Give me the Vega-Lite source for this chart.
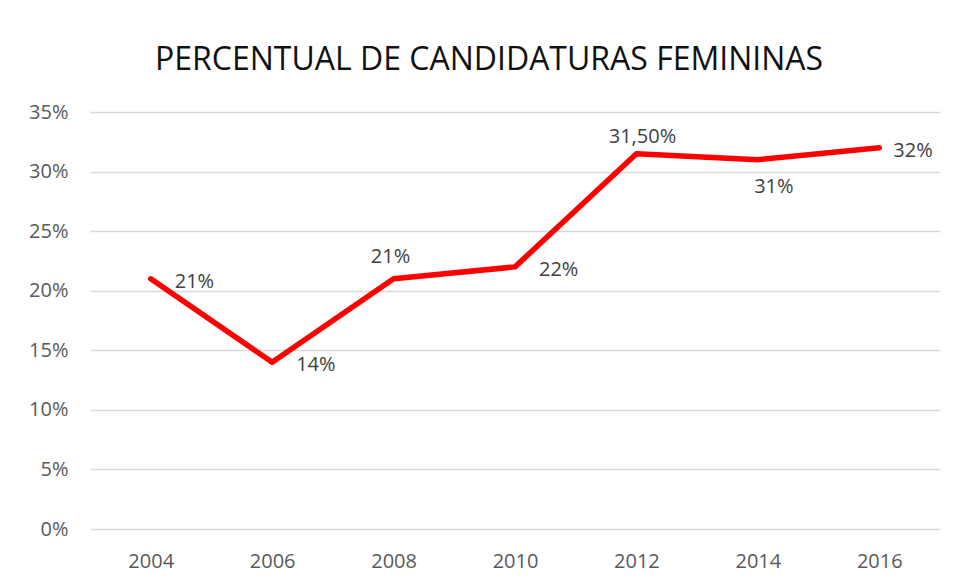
{
  "$schema": "https://vega.github.io/schema/vega-lite/v6.json",
  "width": 850,
  "height": 417,
  "autosize": {"type": "none"},
  "padding": {"left": 90, "top": 112, "right": 19, "bottom": 54},
  "background": "white",
  "config": {
    "view": {"stroke": null},
    "font": "Open Sans"
  },
  "title": {
    "text": "PERCENTUAL DE CANDIDATURAS FEMININAS",
    "font": "Open Sans",
    "fontSize": 32,
    "fontWeight": "normal",
    "color": "#111111",
    "anchor": "middle",
    "frame": "group",
    "dx": -26,
    "offset": 25
  },
  "data": {
    "values": [
      {"ano": "2004", "valor": 0.21, "rotulo": "21%"},
      {"ano": "2006", "valor": 0.14, "rotulo": "14%"},
      {"ano": "2008", "valor": 0.21, "rotulo": "21%"},
      {"ano": "2010", "valor": 0.22, "rotulo": "22%"},
      {"ano": "2012", "valor": 0.315, "rotulo": "31,50%"},
      {"ano": "2014", "valor": 0.31, "rotulo": "31%"},
      {"ano": "2016", "valor": 0.32, "rotulo": "32%"}
    ]
  },
  "encoding": {
    "x": {
      "field": "ano",
      "type": "ordinal",
      "scale": {"type": "point", "padding": 0.5},
      "axis": {
        "title": null,
        "labelAngle": 0,
        "labelFont": "Open Sans",
        "labelFontSize": 20,
        "labelColor": "#595959",
        "labelPadding": 22,
        "ticks": false,
        "domain": false,
        "grid": false
      }
    },
    "y": {
      "field": "valor",
      "type": "quantitative",
      "scale": {"domain": [0, 0.35], "nice": false},
      "axis": {
        "title": null,
        "values": [0, 0.05, 0.1, 0.15, 0.2, 0.25, 0.3, 0.35],
        "format": ".0%",
        "labelFont": "Open Sans",
        "labelFontSize": 20,
        "labelColor": "#595959",
        "labelPadding": 22,
        "ticks": false,
        "domain": false,
        "grid": true,
        "gridColor": "#D9D9D9",
        "gridWidth": 1.3
      }
    }
  },
  "layer": [
    {
      "mark": {"type": "line", "color": "#FF0000", "strokeWidth": 5.5, "strokeCap": "round", "strokeJoin": "round"}
    },
    {
      "transform": [{"filter": "datum.ano == '2004' || datum.ano == '2006' || datum.ano == '2010'"}],
      "mark": {"type": "text", "align": "left", "baseline": "middle", "dx": 24, "dy": 3, "fontSize": 20, "font": "Open Sans", "color": "#404040"},
      "encoding": {"text": {"field": "rotulo"}}
    },
    {
      "transform": [{"filter": "datum.ano == '2016'"}],
      "mark": {"type": "text", "align": "left", "baseline": "middle", "dx": 14, "dy": 3, "fontSize": 20, "font": "Open Sans", "color": "#404040"},
      "encoding": {"text": {"field": "rotulo"}}
    },
    {
      "transform": [{"filter": "datum.ano == '2008'"}],
      "mark": {"type": "text", "align": "center", "baseline": "middle", "dx": -3, "dy": -22, "fontSize": 20, "font": "Open Sans", "color": "#404040"},
      "encoding": {"text": {"field": "rotulo"}}
    },
    {
      "transform": [{"filter": "datum.ano == '2012'"}],
      "mark": {"type": "text", "align": "center", "baseline": "middle", "dx": 6, "dy": -17, "fontSize": 20, "font": "Open Sans", "color": "#404040"},
      "encoding": {"text": {"field": "rotulo"}}
    },
    {
      "transform": [{"filter": "datum.ano == '2014'"}],
      "mark": {"type": "text", "align": "center", "baseline": "middle", "dx": 16, "dy": 27, "fontSize": 20, "font": "Open Sans", "color": "#404040"},
      "encoding": {"text": {"field": "rotulo"}}
    }
  ]
}
